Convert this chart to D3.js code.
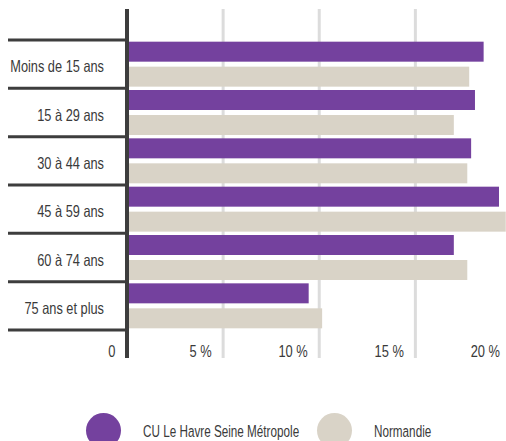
<!DOCTYPE html>
<html><head><meta charset="utf-8">
<script src="https://cdn.jsdelivr.net/npm/d3@7"></script>
<style>
html,body{margin:0;padding:0;background:#fff;}
svg{display:block;}
text{font-family:"Liberation Sans",Arial,sans-serif;fill:#3a3a3a;}
</style></head>
<body>
<script>
const categories = ["Moins de 15 ans","15 à 29 ans","30 à 44 ans","45 à 59 ans","60 à 74 ans","75 ans et plus"];
const seriesNames = ["CU Le Havre Seine Métropole","Normandie"];
const havreValues = [18.55, 18.1, 17.9, 19.35, 17.0, 9.45];
const normandieValues = [17.8, 17.0, 17.7, 19.7, 17.7, 10.15];
const tickValues = [0, 5, 10, 15, 20];
const tickLabels = ["0", "5 %", "10 %", "15 %", "20 %"];
const colors = ["#74419e", "#d9d3c7"];

(function () {
const W = 506, H = 441;
const FS = 16.5;
const svg = d3.select("body").append("svg").attr("width", W).attr("height", H);

const x = d3.scaleLinear().domain([0, 20]).range([127, 511.5]);
const y = d3.scaleBand().domain(categories).range([40, 330]);
const ys = d3.scaleBand().domain(seriesNames).range([0, y.bandwidth()]).paddingInner(0.2).paddingOuter(0.067);
const color = d3.scaleOrdinal().domain(seriesNames).range(colors);

const yTop = 9, yBottom = 358;

// grid lines
svg.append("g").selectAll("line").data(tickValues.slice(1)).join("line")
  .attr("x1", d => x(d)).attr("x2", d => x(d))
  .attr("y1", yTop).attr("y2", yBottom)
  .attr("stroke", "#dcdcdc").attr("stroke-width", 3);

// bars
const rows = categories.map((c, i) => ({cat: c, vals: [havreValues[i], normandieValues[i]]}));
const g = svg.append("g").selectAll("g").data(rows).join("g")
  .attr("transform", d => `translate(0,${y(d.cat)})`);
g.selectAll("rect").data(d => d.vals.map((v, j) => ({s: seriesNames[j], v}))).join("rect")
  .attr("x", x(0)).attr("y", d => ys(d.s))
  .attr("width", d => x(d.v) - x(0)).attr("height", ys.bandwidth())
  .attr("fill", d => color(d.s));

// category separators
const seps = categories.map(c => y(c)).concat([y.range()[1]]);
svg.append("g").selectAll("line").data(seps).join("line")
  .attr("x1", 8).attr("x2", 127).attr("y1", d => d).attr("y2", d => d)
  .attr("stroke", "#3d3d3d").attr("stroke-width", 3);

// category labels (condensed via horizontal scale)
svg.append("g").selectAll("text").data(categories).join("text")
  .attr("transform", d => `translate(104,${y(d) + y.bandwidth() / 2 + 8}) scale(0.775,1)`)
  .attr("text-anchor", "end")
  .attr("font-size", FS).text(d => d);

// vertical axis line
svg.append("line").attr("x1", 127).attr("x2", 127).attr("y1", yTop).attr("y2", yBottom)
  .attr("stroke", "#3d3d3d").attr("stroke-width", 4);

// x axis labels
const xAxis = d3.axisBottom(x).tickValues(tickValues).tickSize(0)
  .tickFormat((d, i) => tickLabels[i]);
const ax = svg.append("g").attr("transform", "translate(0,357)").call(xAxis);
ax.select(".domain").remove();
ax.selectAll(".tick text")
  .attr("x", 0).attr("y", 0).attr("dy", null)
  .attr("transform", "translate(-12,0) scale(0.78,1)")
  .attr("text-anchor", "end")
  .attr("font-size", FS).style("font-family", '"Liberation Sans",Arial,sans-serif')
  .attr("fill", "#3a3a3a");

// legend
const legendX = [103.5, 334.5];
const lg = svg.append("g").selectAll("g").data(seriesNames).join("g")
  .attr("transform", (d, i) => `translate(${legendX[i]},430.5)`);
lg.append("circle").attr("r", 17.5).attr("fill", d => color(d));
lg.append("text").attr("transform", "translate(39.5,6.5) scale(0.71,1)")
  .attr("font-size", FS).text(d => d);
})();
</script>
</body></html>
